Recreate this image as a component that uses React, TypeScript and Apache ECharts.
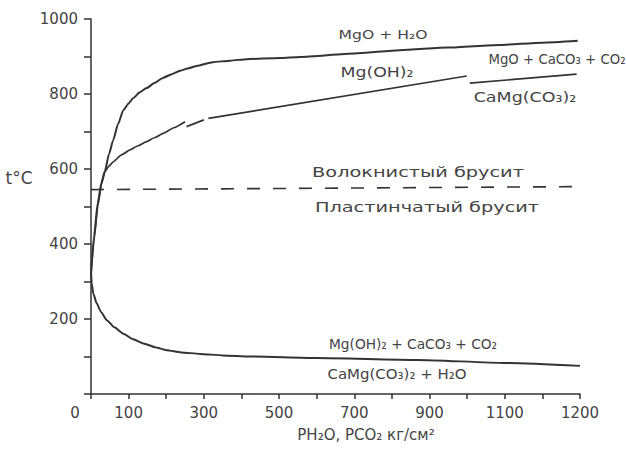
import React, { useEffect, useRef } from 'react';
import * as echarts from 'echarts';

// Tick values and labels as printed on the figure
const xTickValues = [0, 100, 300, 500, 700, 900, 1100, 1300];
const xTickLabels = ['0', '100', '300', '500', '700', '900', '1100', '1200'];
const yTickValues = [200, 400, 600, 800, 1000];
const yTickLabels = ['200', '400', '600', '800', '1000'];

// MgO + H2O / Mg(OH)2
const curveMgO: [number, number][] = [
  [0, 320], [8, 420], [18, 510], [28, 565], [37, 595], [48, 640], [59, 677], [72, 720],
  [86, 757], [100, 775], [112, 789], [130, 805], [148, 816], [170, 830], [191, 843],
  [215, 853], [237, 862], [260, 869], [281, 875], [324, 885], [370, 889], [414, 893],
  [502, 896], [556, 899], [700, 908], [821, 917], [950, 924], [1087, 931], [1200, 937], [1294, 942],
];

// Mg(OH)2 / CaMg(CO3)2 (with breaks as in the print)
const curveBrucite: (number | string)[][] = [
  [0, 320], [8, 410], [18, 500], [28, 560], [37, 593], [47, 607], [59, 619], [80, 637],
  [104, 651], [125, 662], [148, 673], [170, 684], [192, 695], [220, 710], [250, 726],
  ['-', '-'],
  [254, 713], [300, 731],
  ['-', '-'],
  [312, 735], [999, 848],
];

// MgO + CaCO3 + CO2 / CaMg(CO3)2
const curveDolomite: [number, number][] = [[1007, 829], [1291, 853]];

// Mg(OH)2 + CaCO3 + CO2 / CaMg(CO3)2 + H2O
const curveLow: [number, number][] = [
  [0, 325], [2, 295], [6, 268], [15, 242], [27, 218], [42, 197], [62, 178], [86, 161],
  [110, 147], [139, 135], [170, 125], [201, 117], [240, 111], [290, 107], [350, 103],
  [423, 100], [600, 96], [866, 91], [1100, 83], [1300, 75],
];

// Fibrous / lamellar brucite boundary
const lineBrucite: [number, number][] = [[0, 545], [1300, 553]];

const LINE = '#333';
const TEXT = '#444';
const FONT = 'DejaVu Sans';

function label(text: string, x: number, y: number, size: number, scaleX: number) {
  return {
    type: 'text',
    x,
    y,
    scaleX,
    style: {
      text,
      x: 0,
      y: 0,
      align: 'center',
      verticalAlign: 'middle',
      fontSize: size,
      fontFamily: FONT,
      fill: TEXT,
    },
  };
}

export default function App() {
  const ref = useRef<HTMLDivElement>(null);

  useEffect(() => {
    if (!ref.current) return;
    const chart = echarts.init(ref.current, null, { renderer: 'svg' });
    const lineSeries = (data: any[], width: number, type: any = 'solid') => ({
      type: 'line',
      data,
      showSymbol: false,
      symbol: 'none',
      smooth: 0.2,
      smoothMonotone: 'x',
      connectNulls: false,
      lineStyle: { color: LINE, width, type },
      z: 3,
    });
    chart.setOption({
      animation: false,
      backgroundColor: '#fff',
      grid: { left: 91, right: 46, top: 19, bottom: 55 },
      xAxis: {
        type: 'value',
        min: 0,
        max: 1300,
        interval: 100,
        splitLine: { show: false },
        axisLine: { lineStyle: { color: LINE, width: 1.5 } },
        axisTick: { length: 5, lineStyle: { color: LINE, width: 1.5 } },
        axisLabel: {
          color: TEXT,
          fontSize: 15,
          fontFamily: FONT,
          margin: 11,
          showMinLabel: true,
          showMaxLabel: true,
          formatter: (v: number) => {
            const i = xTickValues.indexOf(Math.round(v));
            if (i < 0) return '';
            if (v === 0) return '{z|' + xTickLabels[i] + '}';
            return xTickLabels[i];
          },
          rich: {
            z: { color: TEXT, fontSize: 15, fontFamily: FONT, padding: [0, 32, 0, 0] },
          },
        },
      },
      yAxis: {
        type: 'value',
        min: 0,
        max: 1000,
        interval: 100,
        splitLine: { show: false },
        axisLine: { show: true, lineStyle: { color: LINE, width: 1.5 } },
        axisTick: { show: true, length: 7, lineStyle: { color: LINE, width: 1.5 } },
        axisLabel: {
          color: TEXT,
          fontSize: 15,
          fontFamily: FONT,
          margin: 13,
          formatter: (v: number) => {
            const i = yTickValues.indexOf(Math.round(v));
            return i < 0 ? '' : yTickLabels[i];
          },
        },
      },
      series: [
        lineSeries(curveMgO, 2),
        { ...lineSeries(curveBrucite, 1.7), smooth: 0.15 },
        { ...lineSeries(curveDolomite, 1.7), smooth: false },
        lineSeries(curveLow, 2),
        { ...lineSeries(lineBrucite, 1.6, [13, 13]), smooth: false },
      ],
      graphic: [
        label('MgO + H₂O', 383, 34, 13, 1.2),
        label('Mg(OH)₂', 377, 72, 14, 1.24),
        label('MgO + CaCO₃ + CO₂', 557, 59, 14, 0.95),
        label('CaMg(CO₃)₂', 525, 97, 14, 1.25),
        label('Волокнистый брусит', 418, 172, 14, 1.38),
        label('Пластинчатый брусит', 427, 207, 14, 1.38),
        label('Mg(OH)₂ + CaCO₃ + CO₂', 413, 344, 14, 0.98),
        label('CaMg(CO₃)₂ + H₂O', 397, 374, 14, 1.07),
        label('PH₂O, PCO₂ кг/см²', 366, 435, 15, 1.0),
        label('t°C', 19, 178, 17, 1.0),
      ],
    });
    return () => chart.dispose();
  }, []);

  return (
    <div
      ref={ref}
      style={{ position: 'fixed', left: 0, top: 0, width: 626, height: 449 }}
    />
  );
}
